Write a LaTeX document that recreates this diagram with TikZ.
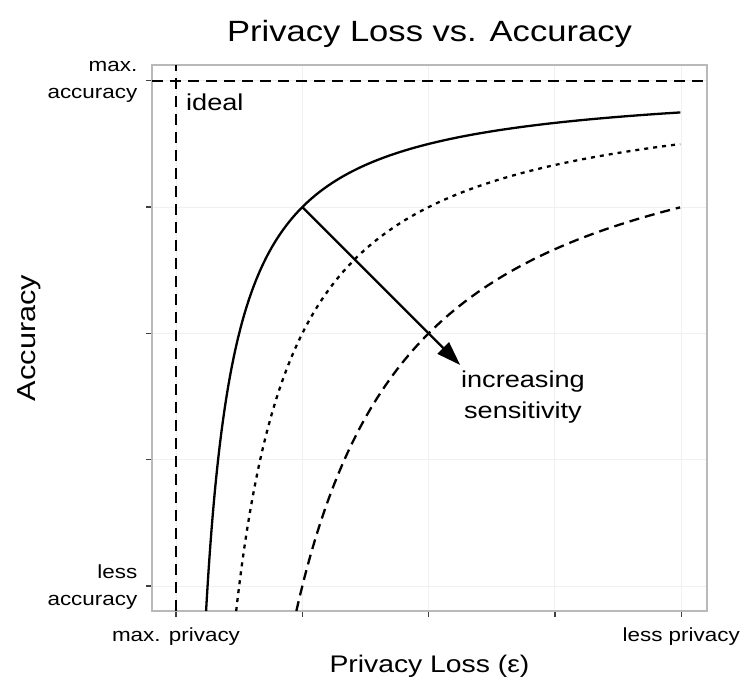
\documentclass[tikz,border=0pt]{standalone}
\usepackage{fontspec}
\setmainfont{Liberation Sans}[FakeStretch=1.18]
\usetikzlibrary{arrows.meta}
\newcommand{\ticksize}{\fontsize{19}{27}\selectfont}
\newcommand{\labsize}{\fontsize{24}{28}\selectfont}

\begin{document}
\begin{tikzpicture}[x=126.3pt, y=126.3pt,
  every node/.style={inner sep=0pt},
  panel/.style={draw=gray!55, line width=1.2pt},
  gridln/.style={gray!12, line width=0.9pt},
  tickmark/.style={black!75, line width=1.3pt},
  ticklab/.style={font=\ticksize, align=right},
  axtitle/.style={font=\labsize},
  ann/.style={font=\fontsize{23}{31}\selectfont, align=center},
  refline/.style={line width=2.5pt, dash pattern=on 11pt off 7pt},
  curve/.style={line width=2.3pt, smooth, samples=150, variable=\t},
  sens1/.style={solid},
  sens2/.style={dash pattern=on 4pt off 5pt},
  sens4/.style={dash pattern=on 10pt off 6pt},
  arrow/.style={-{Triangle[length=24pt,width=16pt]}, line width=2.2pt}]
\useasboundingbox (-1.3935,-0.7443) rectangle (4.4893,4.6397);
% grid, ticks and frame
\foreach \k in {0,...,4} {
  \draw[gridln] (\k,-0.198) -- (\k,4.125);
  \draw[gridln] (-0.19,\k) -- (4.204,\k);
  \draw[tickmark] (\k,-0.198) -- (\k,-0.246);
  \draw[tickmark] (-0.19,\k) -- (-0.238,\k);
}
\draw[panel] (-0.19,-0.198) rectangle (4.204,4.125);
% ideal lines
\draw[refline] (0,-0.198) -- (0,4.125);
\draw[refline] (-0.19,4) -- (4.204,4);
% accuracy = 4 - sensitivity/eps
\foreach \s/\lo in {1/-1.4346, 2/-0.7415, 4/-0.0483}
  \draw[curve, sens\s, domain=\lo:1.3863] plot ({exp(\t)}, {4-\s*exp(-\t)});
% labels
\node[font=\fontsize{29.3}{34}\selectfont, anchor=base] (title) at (2.007,4.315) {Privacy Loss vs. Accuracy};
\node[ticklab, anchor=east] (ymax) at (-0.305,3.99) {max.\\accuracy};
\node[ticklab, anchor=east] (ymin) at (-0.305,-0.01) {less\\accuracy};
\node[ticklab, anchor=base] (xmin) at (0,-0.4394) {max. privacy};
\node[ticklab, anchor=base] (xmax) at (4,-0.4394) {less privacy};
\node[axtitle, anchor=base] (xlab) at (2.007,-0.681) {Privacy Loss (ε)};
\node[font=\fontsize{26}{30}\selectfont, rotate=90] (ylab) at (-1.165,1.964) {Accuracy};
\node[ann, anchor=base west] (ideal) at (0.079,3.761) {ideal};
\node[ann] (incr) at (2.747,1.496) {increasing\\sensitivity};
% arrow
\coordinate (kink) at (1,3);
\coordinate (tip) at (2.25,1.75);
\draw[arrow] (kink) -- (tip);
\end{tikzpicture}
\end{document}
